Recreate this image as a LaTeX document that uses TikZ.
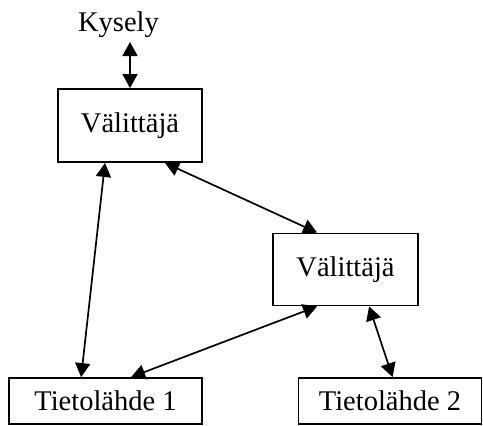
\documentclass[tikz,border=0pt]{standalone}
\usepackage{fontspec}
\setmainfont{Liberation Serif}
\usetikzlibrary{arrows.meta}
\begin{document}
\begin{tikzpicture}[x=1pt,y=-1pt,
  box/.style={draw, line width=1.8pt, rectangle, inner sep=0pt,
    font=\fontsize{28.5}{34}\selectfont},
  link/.style={line width=1.7pt, {Triangle[length=14pt,width=15pt]}-{Triangle[length=14pt,width=15pt]}}]
  \useasboundingbox (0,0) rectangle (483,426);

  % query label
  \node[anchor=base, inner sep=0pt, font=\fontsize{28.5}{34}\selectfont] (kysely) at (118.5,31) {Kysely};
  \coordinate (kq) at (130,42);

  % brokers and sources
  \node[box, minimum width=144pt, minimum height=73pt] (b1) at (130,125.5) {Välittäjä};
  \node[box, minimum width=145pt, minimum height=72pt] (b2) at (345.5,269.5) {Välittäjä};
  \node[box, minimum width=193pt, minimum height=46pt] (s1) at (105.5,401) {Tietolähde 1};
  \node[box, minimum width=183pt, minimum height=46pt] (s2) at (390,401) {Tietolähde 2};

  % connections
  \draw[link] (kq) -- (b1.north);
  \draw[link] ([xshift=-25pt]b1.south) -- ([xshift=73pt]s1.north west);
  \draw[link] ([xshift=35pt]b1.south) -- ([xshift=45pt]b2.north west);
  \draw[link] ([xshift=45pt]b2.south west) -- ([xshift=123pt]s1.north west);
  \draw[link] ([xshift=97pt]b2.south west) -- ([xshift=95pt]s2.north west);
\end{tikzpicture}
\end{document}
